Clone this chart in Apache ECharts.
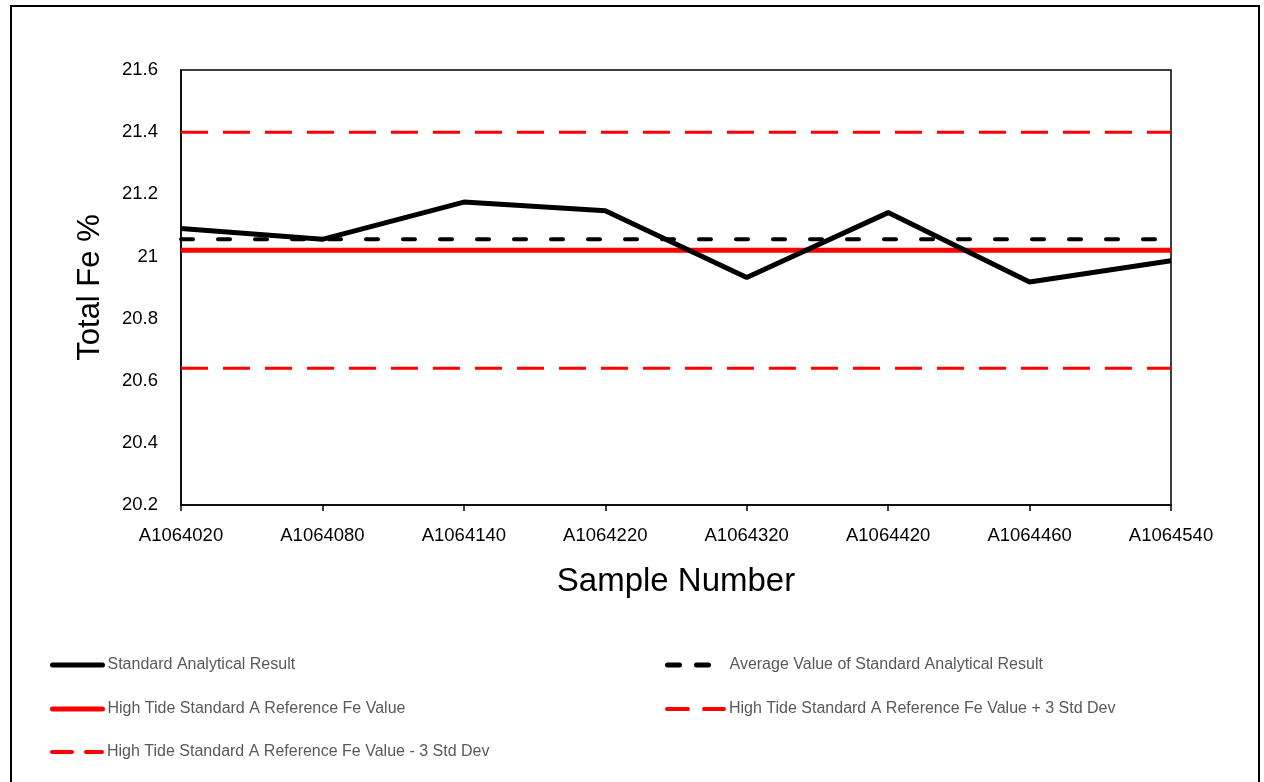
<!DOCTYPE html>
<html>
<head>
<meta charset="utf-8">
<script src="https://cdn.jsdelivr.net/npm/echarts@6/dist/echarts.min.js"></script>
<style>
  html, body { margin: 0; padding: 0; background: #fff; }
  #chart { width: 1264px; height: 782px; }
</style>
</head>
<body>
<div id="chart"></div>
<script>
// sample ids along the x axis
var samples = ['A1064020', 'A1064080', 'A1064140', 'A1064220', 'A1064320', 'A1064420', 'A1064460', 'A1064540'];

// values (Fe %)
var results = [21.09, 21.055, 21.175, 21.147, 20.932, 21.141, 20.918, 20.986];
var average = [21.055, 21.055, 21.055, 21.055, 21.055, 21.055, 21.055, 21.055];
var refValue = [21.02, 21.02, 21.02, 21.02, 21.02, 21.02, 21.02, 21.02];
var refPlus3 = [21.40, 21.40, 21.40, 21.40, 21.40, 21.40, 21.40, 21.40];
var refMinus3 = [20.64, 20.64, 20.64, 20.64, 20.64, 20.64, 20.64, 20.64];

var names = [
    'Standard Analytical Result',
    'Average Value of Standard Analytical Result',
    'High Tide Standard A Reference Fe Value',
    'High Tide Standard A Reference Fe Value + 3 Std Dev',
    'High Tide Standard A Reference Fe Value - 3 Std Dev'
];

var fontName = 'Liberation Sans';

// one legend box per entry so the two columns line up like the original
var _legend = function (name, left, top, w, lineStyle) {
    return {
        data: [name],
        left: left,
        top: top,
        itemWidth: w,
        itemHeight: 14,
        itemStyle: { opacity: 0 },
        lineStyle: lineStyle,
        selectedMode: false,
        textStyle: {
            color: '#595959',
            fontSize: 16,
            fontFamily: fontName,
            padding: [0, 0, 0, 0]
        }
    };
};

var myChart = echarts.init(document.getElementById('chart'));

var option = {
    backgroundColor: '#fff',
    animation: false,
    textStyle: { fontFamily: fontName },
    graphic: [{
        type: 'rect',
        shape: { x: 11, y: 6, width: 1248, height: 800 },
        style: { fill: 'none', stroke: '#000', lineWidth: 2 },
        silent: true
    }],
    grid: {
        left: 181,
        right: 93,
        top: 70,
        bottom: 277,
        show: true,
        borderColor: '#000',
        borderWidth: 1.5
    },
    legend: [
        _legend(names[0], 45, 652, 50, { width: 5, type: 'solid', cap: 'round' }),
        _legend(names[1], 660, 652, 57, { width: 5, type: [12, 17, 12, 40], cap: 'round' }),
        _legend(names[2], 45, 696, 50, { width: 5, type: 'solid', cap: 'round' }),
        _legend(names[3], 660, 696, 57, { width: 4, type: [21, 16, 21, 20], cap: 'round' }),
        _legend(names[4], 45, 739, 50, { width: 4, type: [20, 14, 20, 20], cap: 'round' })
    ],
    xAxis: {
        type: 'category',
        data: samples,
        boundaryGap: false,
        name: 'Sample Number',
        nameLocation: 'middle',
        nameGap: 60,
        nameTextStyle: { fontSize: 33, color: '#000', fontFamily: fontName },
        axisLine: { lineStyle: { color: '#000', width: 1.5 } },
        axisTick: { show: true, alignWithLabel: true, length: 6, lineStyle: { color: '#000', width: 1.5 } },
        axisLabel: { color: '#000', fontSize: 18.5, margin: 21, interval: 0 },
        splitLine: { show: false }
    },
    yAxis: {
        type: 'value',
        min: 20.2,
        max: 21.6,
        interval: 0.2,
        name: 'Total Fe %',
        nameLocation: 'middle',
        nameGap: 75,
        nameTextStyle: { fontSize: 31, color: '#000', fontFamily: fontName },
        axisLine: { show: true, lineStyle: { color: '#000', width: 1.5 } },
        axisTick: { show: false },
        axisLabel: {
            color: '#000',
            fontSize: 18.5,
            margin: 23,
            formatter: function (v) { return String(Math.round(v * 10) / 10); }
        },
        splitLine: { show: false }
    },
    series: [{
        name: names[2],
        type: 'line',
        data: refValue,
        symbol: 'none',
        z: 2,
        lineStyle: { color: '#FF0000', width: 5 },
        itemStyle: { color: '#FF0000' }
    }, {
        name: names[3],
        type: 'line',
        data: refPlus3,
        symbol: 'none',
        lineStyle: { color: '#FF0000', width: 3, type: [27, 15] },
        itemStyle: { color: '#FF0000' }
    }, {
        name: names[4],
        type: 'line',
        data: refMinus3,
        symbol: 'none',
        lineStyle: { color: '#FF0000', width: 3, type: [27, 15] },
        itemStyle: { color: '#FF0000' }
    }, {
        name: names[1],
        type: 'line',
        data: average,
        symbol: 'none',
        z: 3,
        lineStyle: { color: '#000', width: 4, type: [12, 25], cap: 'round' },
        itemStyle: { color: '#000' }
    }, {
        name: names[0],
        type: 'line',
        data: results,
        symbol: 'none',
        z: 4,
        lineStyle: { color: '#000', width: 5 },
        itemStyle: { color: '#000' }
    }]
};

myChart.setOption(option);
</script>
</body>
</html>
